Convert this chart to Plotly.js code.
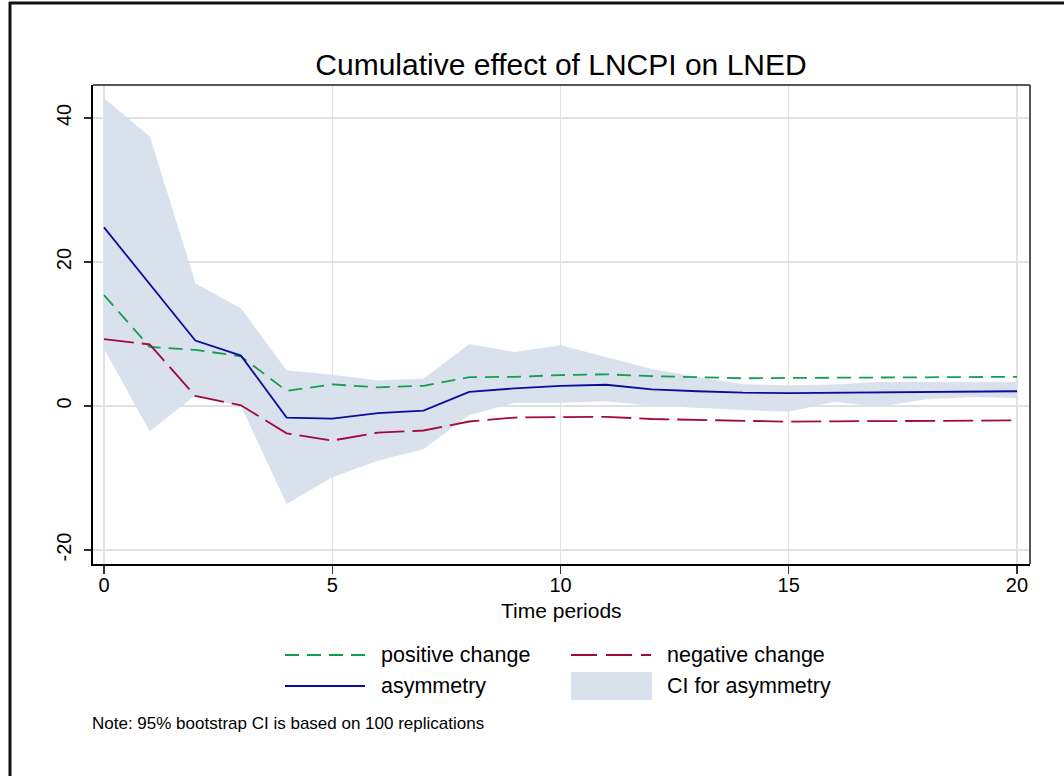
<!DOCTYPE html>
<html>
<head>
<meta charset="utf-8">
<script src="https://cdn.plot.ly/plotly-3.0.1.min.js"></script>
<style>
  html, body { margin: 0; padding: 0; background: #ffffff; }
  #chart { width: 1064px; height: 776px; }
</style>
</head>
<body>
<div id="chart"></div>
<script>
// ---- data ----
const periods = [0,1,2,3,4,5,6,7,8,9,10,11,12,13,14,15,16,17,18,19,20];
const positiveChange = [15.4, 8.2, 7.8, 6.9, 2.1, 3.0, 2.6, 2.8, 4.0, 4.05, 4.3, 4.4, 4.15, 4.0, 3.85, 3.9, 3.95, 4.0, 4.0, 4.05, 4.05];
const negativeChange = [9.3, 8.55, 1.4, 0.1, -3.8, -4.8, -3.7, -3.4, -2.15, -1.6, -1.55, -1.5, -1.8, -1.95, -2.1, -2.18, -2.13, -2.1, -2.08, -2.05, -2.0];
const asymmetry = [24.8, 16.9, 9.1, 7.0, -1.6, -1.75, -1.0, -0.65, 1.95, 2.45, 2.8, 2.95, 2.3, 2.05, 1.85, 1.8, 1.85, 1.9, 1.95, 2.0, 2.05];
const ciUpper = [42.7, 37.4, 17.0, 13.5, 4.9, 4.3, 3.5, 3.75, 8.55, 7.45, 8.4, 6.75, 5.1, 4.0, 3.0, 2.8, 2.95, 3.3, 3.3, 3.3, 3.3];
const ciLower = [8.0, -3.55, 1.5, 0.0, -13.6, -9.9, -7.6, -6.0, -1.25, 0.45, 0.45, 0.65, 0.05, -0.3, -0.55, -0.8, 0.6, -0.1, 0.95, 1.2, 1.1];
const xTicks = [0, 5, 10, 15, 20];
const yTicks = [-20, 0, 20, 40];
const seriesNames = ["positive change", "negative change", "asymmetry", "CI for asymmetry"];
const titleText = "Cumulative effect of LNCPI on LNED";
const xTitleText = "Time periods";
const noteText = "Note: 95% bootstrap CI is based on 100 replications";

// ---- styling ----
const FONT = "Liberation Sans, Arial, Helvetica, sans-serif";
const GREEN = "#12a04c";
const RED = "#a3083f";
const BLUE = "#0c0c9c";
const FILL = "#d9e1ed";
const GRID = "#e1e1e1";

const L = 93, T = 85, W = 937, H = 479;
const px = x => (x - L) / W;
const py = y => (T + H - y) / H;

const traces = [
  { x: periods, y: ciLower, type: "scatter", mode: "lines", line: { width: 0, color: FILL },
    hoverinfo: "skip", showlegend: false },
  { x: periods, y: ciUpper, type: "scatter", mode: "lines", line: { width: 0.5, color: "#d4dcea" },
    fill: "tonexty", fillcolor: FILL, hoverinfo: "skip", showlegend: false, name: seriesNames[3] },
  { x: periods, y: positiveChange, type: "scatter", mode: "lines", name: seriesNames[0],
    line: { color: GREEN, width: 1.8, dash: "14px,8px" }, showlegend: false },
  { x: periods, y: negativeChange, type: "scatter", mode: "lines", name: seriesNames[1],
    line: { color: RED, width: 1.8, dash: "30px,8px" }, showlegend: false },
  { x: periods, y: asymmetry, type: "scatter", mode: "lines", name: seriesNames[2],
    line: { color: BLUE, width: 1.8 }, showlegend: false }
];

const shapes = [
  // outer frame (left + top)
  { type: "line", xref: "paper", yref: "paper", x0: px(10), x1: px(10), y0: py(2), y1: py(780),
    line: { color: "#111", width: 3 } },
  { type: "line", xref: "paper", yref: "paper", x0: px(9), x1: px(1070), y0: py(3), y1: py(3),
    line: { color: "#111", width: 3 } },
  // plot frame top/right
  { type: "line", xref: "paper", yref: "paper", x0: 0, x1: 1, y0: 1, y1: 1,
    line: { color: "#222", width: 1.5 } },
  { type: "line", xref: "paper", yref: "paper", x0: 1, x1: 1, y0: 0, y1: 1,
    line: { color: "#555", width: 2 } },
  // legend keys
  { type: "line", xref: "paper", yref: "paper", x0: px(285), x1: px(365), y0: py(655), y1: py(655),
    line: { color: GREEN, width: 1.8, dash: "14px,8px" } },
  { type: "line", xref: "paper", yref: "paper", x0: px(571), x1: px(651), y0: py(655), y1: py(655),
    line: { color: RED, width: 1.8, dash: "26px,9px" } },
  { type: "line", xref: "paper", yref: "paper", x0: px(285), x1: px(365), y0: py(686), y1: py(686),
    line: { color: BLUE, width: 1.8 } },
  { type: "rect", xref: "paper", yref: "paper", x0: px(571), x1: px(652), y0: py(672), y1: py(700),
    fillcolor: FILL, line: { width: 0 } }
];

const legendText = (txt, x, y) => ({
  text: txt, xref: "paper", yref: "paper", x: px(x), y: py(y),
  xanchor: "left", yanchor: "middle", showarrow: false,
  font: { family: FONT, size: 21.5, color: "#000" }
});

const annotations = [
  legendText(seriesNames[0], 379, 655),
  legendText(seriesNames[1], 665, 655),
  legendText(seriesNames[2], 379, 686),
  legendText(seriesNames[3], 665, 686),
  { text: xTitleText, xref: "paper", yref: "paper", x: px(561), y: py(610),
    xanchor: "center", yanchor: "middle", showarrow: false,
    font: { family: FONT, size: 21, color: "#000" } },
  { text: noteText, xref: "paper", yref: "paper", x: px(90), y: py(723),
    xanchor: "left", yanchor: "middle", showarrow: false,
    font: { family: FONT, size: 17, color: "#000" } }
];

const layout = {
  width: 1064, height: 776,
  margin: { l: L, r: 1064 - L - W, t: T, b: 776 - T - H, pad: 0 },
  paper_bgcolor: "#ffffff", plot_bgcolor: "#ffffff",
  font: { family: FONT, color: "#000" },
  showlegend: false,
  title: { text: titleText, x: px(561), xref: "paper", xanchor: "center",
           y: 1 - 64 / 776, yref: "container", yanchor: "middle",
           font: { family: FONT, size: 30, color: "#000" } },
  xaxis: {
    range: [-0.241, 20.285], tickvals: xTicks, ticktext: xTicks.map(String),
    showgrid: true, gridcolor: GRID, gridwidth: 1.5, zeroline: false,
    showline: true, linecolor: "#000", linewidth: 2,
    ticks: "outside", ticklen: 8, tickwidth: 1.5, tickcolor: "#333",
    ticklabelstandoff: -6,
    tickfont: { family: FONT, size: 20, color: "#000" }
  },
  yaxis: {
    range: [-21.94, 44.58], tickvals: yTicks, ticktext: yTicks.map(String),
    showgrid: true, gridcolor: GRID, gridwidth: 1.5, zeroline: false,
    showline: true, linecolor: "#000", linewidth: 2,
    ticks: "outside", ticklen: 7, tickwidth: 1.5, tickcolor: "#333",
    tickangle: -90, ticklabelstandoff: 5,
    tickfont: { family: FONT, size: 20, color: "#000" }
  },
  shapes: shapes,
  annotations: annotations
};

Plotly.newPlot("chart", traces, layout, { displayModeBar: false, staticPlot: true });
</script>
</body>
</html>
